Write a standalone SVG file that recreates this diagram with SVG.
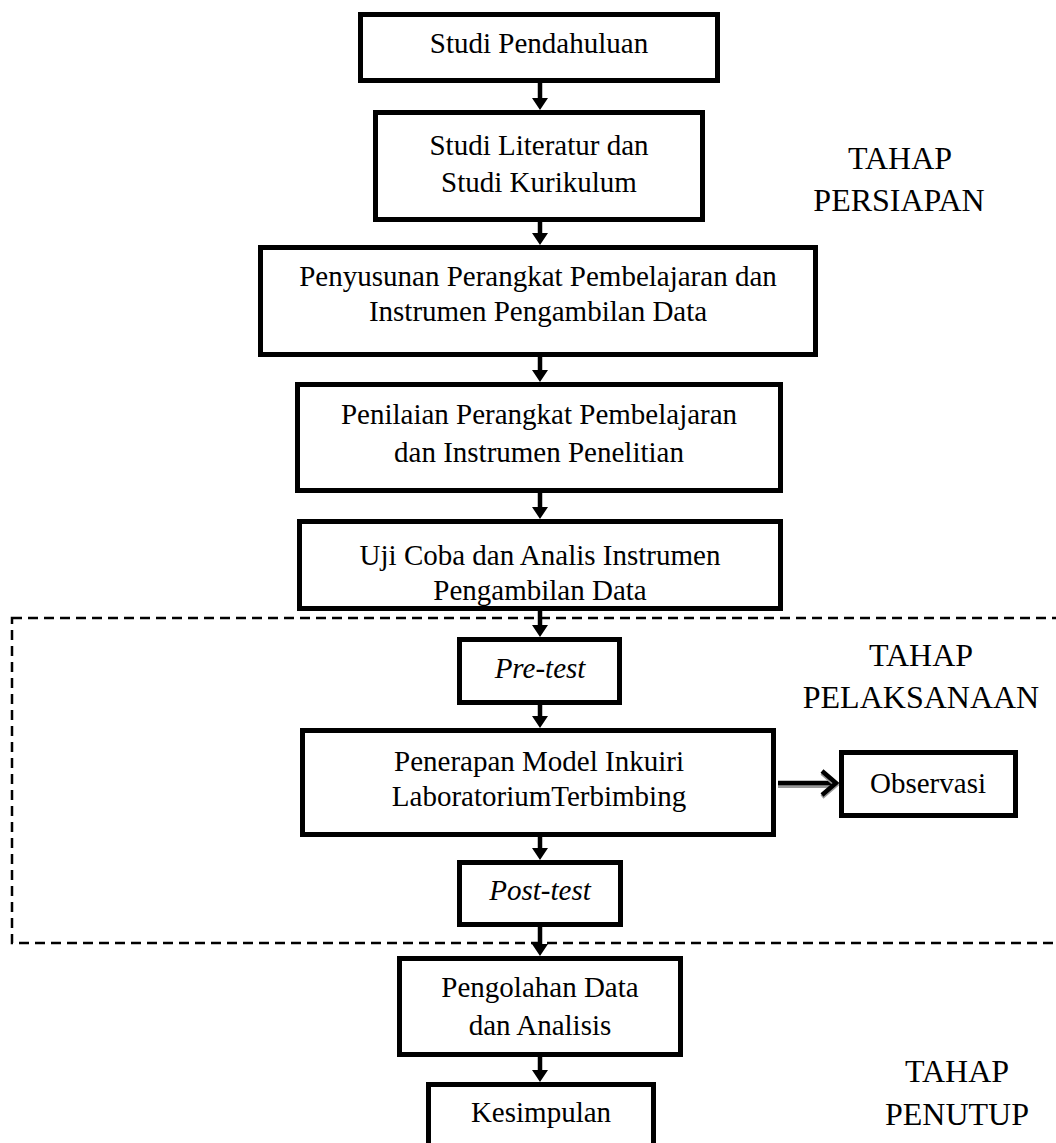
<svg xmlns="http://www.w3.org/2000/svg" width="1056" height="1143" viewBox="0 0 1056 1143">
<style>
.box{fill:#fff;stroke:#000;stroke-width:5}
.open{fill:none;stroke:#000;stroke-width:5}
.t{font-family:"Liberation Serif","Times New Roman",serif;font-size:29px;fill:#000;text-anchor:middle}
.i{font-style:italic}
.lbl{font-family:"Liberation Serif","Times New Roman",serif;font-size:32px;fill:#000;text-anchor:middle}
.shaft{stroke:#000;stroke-width:4.5;fill:none}
.dash{fill:none;stroke:#000;stroke-width:2.5;stroke-dasharray:10 6}
.shadow{stroke:#999;fill:none}
.side{stroke:#000;fill:none}
</style>
<rect width="1056" height="1143" fill="#fff"/>
<g id="region-pelaksanaan">
<rect class="dash" x="12" y="618" width="1070" height="325"/>
</g>
<g id="connectors">
<path class="shaft" d="M540 83V100M540 222V235M540 357V372M540 493V509M540 611V627M540 705V718M540 837V850M540 927V946M540 1057V1072"/>
<path fill="#000" d="M532 98H548L540 110ZM532 233H548L540 245ZM532 370H548L540 382ZM532 507H548L540 519ZM532 625H548L540 637ZM532 716H548L540 728ZM532 848H548L540 860ZM532 944H548L540 956ZM532 1070H548L540 1082Z"/>
<g id="arrow-observasi">
<path class="shadow" d="M778 786H833" stroke-width="4"/>
<path class="side" d="M778 783H834" stroke-width="4.5"/>
<path class="shadow" d="M822 773L836 785L822 797" stroke-width="4.5"/>
<path class="side" d="M822 771L836 783L822 795" stroke-width="4.5"/>
</g>
</g>
<g id="n1"><rect class="box" x="360.5" y="14.5" width="357" height="66"/><text class="t" x="539" y="53">Studi Pendahuluan</text></g>
<g id="n2"><rect class="box" x="375.5" y="112.5" width="327" height="107"/><text class="t" x="539" y="155">Studi Literatur dan</text><text class="t" x="539" y="192">Studi Kurikulum</text></g>
<g id="n3"><rect class="box" x="260.5" y="247.5" width="555" height="107"/><text class="t" x="538" y="286">Penyusunan Perangkat Pembelajaran dan</text><text class="t" x="538" y="321">Instrumen Pengambilan Data</text></g>
<g id="n4"><rect class="box" x="297.5" y="384.5" width="483" height="106"/><text class="t" x="539" y="424">Penilaian Perangkat Pembelajaran</text><text class="t" x="539" y="462">dan Instrumen Penelitian</text></g>
<g id="n5"><rect class="box" x="299.5" y="521.5" width="481" height="87"/><text class="t" x="540" y="565">Uji Coba dan Analis Instrumen</text><text class="t" x="540" y="600">Pengambilan Data</text><rect class="open" x="299.5" y="521.5" width="481" height="87"/></g>
<g id="n6"><rect class="box" x="459.5" y="639.5" width="160" height="63"/><text class="t i" x="540" y="678">Pre-test</text></g>
<g id="n7"><rect class="box" x="302.5" y="730.5" width="471" height="104"/><text class="t" x="539" y="771">Penerapan Model Inkuiri</text><text class="t" x="539" y="806">LaboratoriumTerbimbing</text></g>
<g id="n8"><rect class="box" x="841.5" y="752.5" width="174" height="63"/><text class="t" x="928" y="793">Observasi</text></g>
<g id="n9"><rect class="box" x="459.5" y="862.5" width="161" height="62"/><text class="t i" x="540" y="900">Post-test</text></g>
<g id="n10"><rect class="box" x="399.5" y="958.5" width="281" height="96"/><text class="t" x="540" y="997">Pengolahan Data</text><text class="t" x="540" y="1035">dan Analisis</text></g>
<g id="n11"><rect class="box" x="428.5" y="1084.5" width="225" height="90"/><text class="t" x="541" y="1122">Kesimpulan</text></g>
<g id="labels">
<text class="lbl" x="900" y="169">TAHAP</text><text class="lbl" x="899" y="211">PERSIAPAN</text>
<text class="lbl" x="921" y="666">TAHAP</text><text class="lbl" x="921" y="708">PELAKSANAAN</text>
<text class="lbl" x="957" y="1082">TAHAP</text><text class="lbl" x="957" y="1125">PENUTUP</text>
</g>
</svg>
